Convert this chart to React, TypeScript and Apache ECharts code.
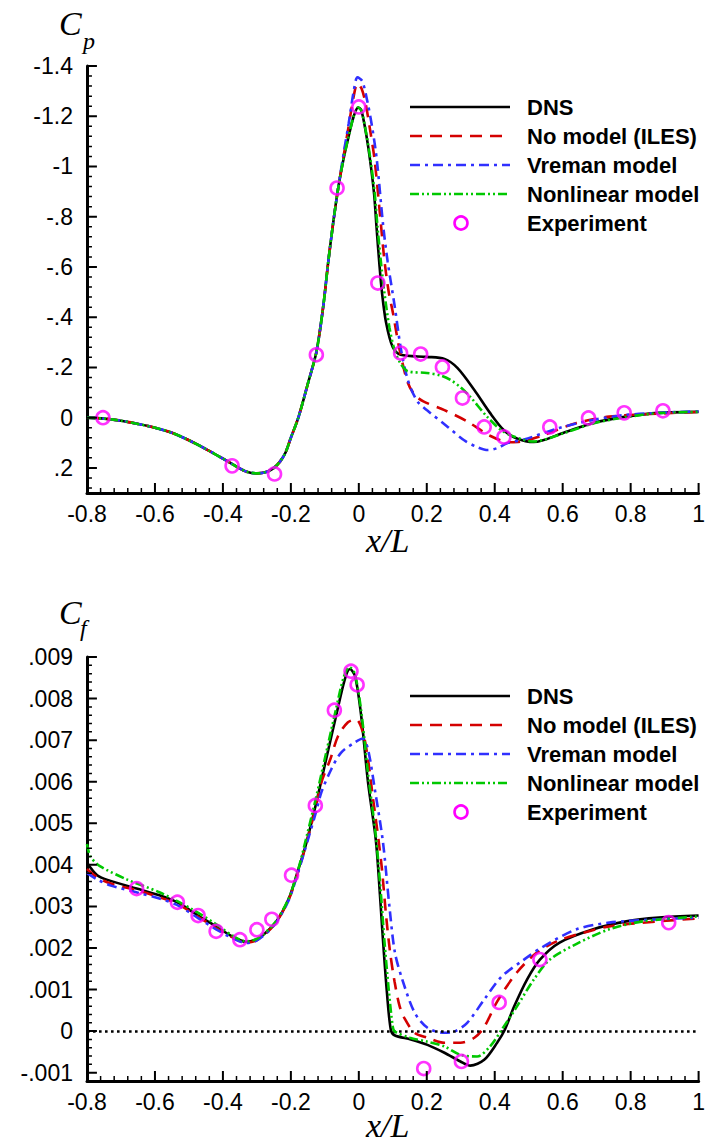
import React, { useEffect, useRef } from 'react';
import * as echarts from 'echarts';

// ---------- Cp (top panel) ----------
const cpDns = [
  [-0.8, 0.0], [-0.75, 0.004], [-0.7, 0.012], [-0.65, 0.025], [-0.6, 0.04], [-0.55, 0.06], [-0.5, 0.09],
  [-0.45, 0.125], [-0.4, 0.163], [-0.36, 0.195], [-0.33, 0.215], [-0.3, 0.222], [-0.27, 0.215], [-0.25, 0.2],
  [-0.232, 0.175], [-0.216, 0.14], [-0.2, 0.08], [-0.178, 0.0], [-0.148, -0.145], [-0.125, -0.26], [-0.105, -0.44],
  [-0.09, -0.62], [-0.075, -0.78], [-0.06, -0.92], [-0.045, -1.03], [-0.03, -1.12], [-0.015, -1.2],
  [-0.002, -1.235], [0.007, -1.225], [0.021, -1.133], [0.033, -1.026], [0.045, -0.89], [0.052, -0.76],
  [0.06, -0.62], [0.068, -0.5], [0.08, -0.38], [0.1, -0.28], [0.123, -0.25], [0.2, -0.242], [0.252, -0.234],
  [0.29, -0.198], [0.34, -0.11], [0.386, -0.019], [0.427, 0.05], [0.465, 0.083], [0.515, 0.097], [0.603, 0.06],
  [0.69, 0.021], [0.787, -0.004], [0.883, -0.019], [1.0, -0.023],
];
const cpNoModel = [
  [-0.8, 0.0], [-0.75, 0.004], [-0.7, 0.012], [-0.65, 0.025], [-0.6, 0.04], [-0.55, 0.06], [-0.5, 0.09],
  [-0.45, 0.125], [-0.4, 0.163], [-0.36, 0.195], [-0.33, 0.215], [-0.3, 0.222], [-0.27, 0.215], [-0.25, 0.2],
  [-0.232, 0.175], [-0.216, 0.14], [-0.2, 0.08], [-0.178, 0.0], [-0.148, -0.145], [-0.125, -0.26], [-0.105, -0.44],
  [-0.09, -0.62], [-0.075, -0.78], [-0.06, -0.92], [-0.045, -1.04], [-0.03, -1.16], [-0.015, -1.28],
  [-0.004, -1.33], [0.008, -1.31], [0.02, -1.25], [0.035, -1.13], [0.047, -1.02], [0.065, -0.77], [0.075, -0.63],
  [0.088, -0.5], [0.1, -0.42], [0.12, -0.27], [0.144, -0.14], [0.165, -0.09], [0.19, -0.065], [0.252, -0.03],
  [0.319, 0.015], [0.386, 0.072], [0.445, 0.098], [0.48, 0.095], [0.544, 0.069], [0.641, 0.021], [0.737, -0.004],
  [0.883, -0.016], [1.0, -0.023],
];
const cpVreman = [
  [-0.8, 0.0], [-0.75, 0.004], [-0.7, 0.012], [-0.65, 0.025], [-0.6, 0.04], [-0.55, 0.06], [-0.5, 0.09],
  [-0.45, 0.125], [-0.4, 0.163], [-0.36, 0.195], [-0.33, 0.215], [-0.3, 0.222], [-0.27, 0.215], [-0.25, 0.2],
  [-0.232, 0.175], [-0.216, 0.14], [-0.2, 0.08], [-0.178, 0.0], [-0.148, -0.145], [-0.125, -0.26], [-0.105, -0.44],
  [-0.09, -0.62], [-0.075, -0.78], [-0.06, -0.92], [-0.045, -1.05], [-0.03, -1.17], [-0.015, -1.3],
  [-0.004, -1.355], [0.01, -1.34], [0.025, -1.26], [0.04, -1.15], [0.053, -1.026], [0.072, -0.76], [0.085, -0.62],
  [0.106, -0.44], [0.123, -0.28], [0.14, -0.17], [0.155, -0.11], [0.175, -0.06], [0.2, -0.03], [0.26, 0.035],
  [0.31, 0.09], [0.348, 0.117], [0.38, 0.129], [0.41, 0.12], [0.436, 0.102], [0.486, 0.087], [0.59, 0.041],
  [0.69, 0.009], [0.787, -0.011], [0.9, -0.02], [1.0, -0.025],
];
const cpNonlinear = [
  [-0.8, 0.0], [-0.75, 0.004], [-0.7, 0.012], [-0.65, 0.025], [-0.6, 0.04], [-0.55, 0.06], [-0.5, 0.09],
  [-0.45, 0.125], [-0.4, 0.163], [-0.36, 0.195], [-0.33, 0.215], [-0.3, 0.222], [-0.27, 0.215], [-0.25, 0.2],
  [-0.232, 0.175], [-0.216, 0.14], [-0.2, 0.08], [-0.178, 0.0], [-0.148, -0.145], [-0.125, -0.26], [-0.105, -0.44],
  [-0.09, -0.62], [-0.075, -0.78], [-0.06, -0.92], [-0.045, -1.03], [-0.03, -1.12], [-0.015, -1.2],
  [-0.002, -1.235], [0.008, -1.22], [0.022, -1.13], [0.035, -1.02], [0.047, -0.89], [0.055, -0.76],
  [0.065, -0.62], [0.075, -0.5], [0.09, -0.36], [0.105, -0.27], [0.123, -0.215], [0.144, -0.185], [0.2, -0.178],
  [0.24, -0.168], [0.27, -0.15], [0.3, -0.12], [0.328, -0.083], [0.378, -0.003], [0.427, 0.057], [0.486, 0.089],
  [0.515, 0.095], [0.603, 0.062], [0.69, 0.023], [0.787, -0.002], [0.883, -0.018], [1.0, -0.023],
];
const cpExperiment = [
  [-0.753, 0.0], [-0.373, 0.192], [-0.248, 0.224], [-0.125, -0.25], [-0.064, -0.914], [0.0, -1.237],
  [0.056, -0.536], [0.123, -0.257], [0.182, -0.253], [0.246, -0.202], [0.305, -0.078], [0.369, 0.037],
  [0.427, 0.077], [0.562, 0.037], [0.676, 0.001], [0.781, -0.019], [0.895, -0.027],
];

// ---------- Cf (bottom panel) ----------
const cfDns = [
  [-0.8, 0.00405], [-0.77, 0.00375], [-0.733, 0.00362], [-0.654, 0.00343], [-0.587, 0.00327], [-0.534, 0.0031],
  [-0.473, 0.00278], [-0.42, 0.00252], [-0.373, 0.00228], [-0.332, 0.00215], [-0.3, 0.00221], [-0.286, 0.00228],
  [-0.245, 0.00261], [-0.207, 0.00317], [-0.178, 0.00389], [-0.157, 0.00445], [-0.125, 0.0055], [-0.096, 0.00655],
  [-0.067, 0.00758], [-0.041, 0.00847], [-0.026, 0.00871], [-0.011, 0.00854], [0.007, 0.00758], [0.027, 0.00599],
  [0.05, 0.0046], [0.062, 0.0033], [0.071, 0.0022], [0.083, 0.0009], [0.094, 0.00004], [0.105, -0.0001],
  [0.153, -0.0002], [0.202, -0.00033], [0.252, -0.00052], [0.299, -0.00073], [0.328, -0.00083], [0.369, -0.00069],
  [0.407, -0.00028], [0.43, 0.00004], [0.457, 0.00059], [0.495, 0.00124], [0.533, 0.00172], [0.591, 0.00213],
  [0.69, 0.00245], [0.787, 0.00264], [0.883, 0.00273], [1.0, 0.00278],
];
const cfNoModel = [
  [-0.8, 0.0039], [-0.77, 0.0037], [-0.73, 0.00355], [-0.65, 0.00338], [-0.587, 0.00322], [-0.534, 0.00306],
  [-0.473, 0.00275], [-0.42, 0.00248], [-0.373, 0.00226], [-0.332, 0.00213], [-0.3, 0.00219], [-0.25, 0.00255],
  [-0.207, 0.00315], [-0.178, 0.00385], [-0.15, 0.00465], [-0.125, 0.00545], [-0.11, 0.00599], [-0.084, 0.00654],
  [-0.061, 0.0071], [-0.032, 0.00743], [-0.008, 0.0075], [0.012, 0.00719], [0.027, 0.00654], [0.042, 0.00558],
  [0.058, 0.0046], [0.068, 0.0039], [0.08, 0.0028], [0.092, 0.0019], [0.105, 0.0012], [0.12, 0.0006],
  [0.135, 0.0003], [0.164, -0.00004], [0.202, -0.00016], [0.252, -0.00028], [0.299, -0.00028], [0.34, -0.00016],
  [0.369, 0.0001], [0.407, 0.00071], [0.465, 0.00141], [0.524, 0.00189], [0.582, 0.00216], [0.641, 0.00232],
  [0.737, 0.00252], [0.883, 0.00264], [1.0, 0.00271],
];
const cfVreman = [
  [-0.8, 0.0038], [-0.77, 0.00365], [-0.73, 0.0035], [-0.65, 0.00333], [-0.587, 0.00319], [-0.534, 0.00303],
  [-0.473, 0.00272], [-0.42, 0.00245], [-0.373, 0.00224], [-0.332, 0.00212], [-0.3, 0.00218], [-0.25, 0.00254],
  [-0.207, 0.00314], [-0.178, 0.00384], [-0.15, 0.0046], [-0.125, 0.0053], [-0.11, 0.00575], [-0.081, 0.0063],
  [-0.052, 0.0067], [-0.011, 0.00695], [0.012, 0.00704], [0.027, 0.00678], [0.047, 0.00582], [0.071, 0.00455],
  [0.09, 0.003], [0.106, 0.0019], [0.128, 0.00124], [0.164, 0.00045], [0.202, 0.00008], [0.252, -0.00004],
  [0.281, -0.00001], [0.319, 0.0002], [0.369, 0.00076], [0.42, 0.00131], [0.486, 0.00172], [0.544, 0.00204],
  [0.641, 0.00245], [0.737, 0.00261], [0.883, 0.00269], [1.0, 0.00273],
];
const cfNonlinear = [
  [-0.8, 0.0045], [-0.79, 0.0042], [-0.762, 0.00397], [-0.683, 0.00365], [-0.587, 0.00334], [-0.49, 0.00293],
  [-0.411, 0.00252], [-0.373, 0.0023], [-0.332, 0.00216], [-0.3, 0.00222], [-0.25, 0.00258], [-0.207, 0.00318],
  [-0.178, 0.0039], [-0.15, 0.0048], [-0.125, 0.00565], [-0.096, 0.0067], [-0.067, 0.00775], [-0.045, 0.0085],
  [-0.028, 0.00876], [-0.012, 0.0086], [0.007, 0.0077], [0.027, 0.0062], [0.05, 0.0047], [0.065, 0.0033],
  [0.075, 0.0022], [0.088, 0.001], [0.1, 0.0001], [0.106, -0.00001], [0.15, -0.00016], [0.2, -0.00025],
  [0.252, -0.00037], [0.299, -0.00057], [0.348, -0.00061], [0.386, -0.00037], [0.421, 0.00004], [0.465, 0.00059],
  [0.515, 0.00124], [0.562, 0.00172], [0.641, 0.0021], [0.737, 0.00245], [0.836, 0.00264], [1.0, 0.00276],
];
const cfExperiment = [
  [-0.654, 0.00343], [-0.534, 0.0031], [-0.473, 0.00278], [-0.42, 0.0024], [-0.35, 0.0022], [-0.3, 0.00244],
  [-0.256, 0.00269], [-0.198, 0.00375], [-0.128, 0.00543], [-0.072, 0.00772], [-0.023, 0.00866], [-0.005, 0.00833],
  [0.191, -0.0009], [0.302, -0.00073], [0.413, 0.00069], [0.533, 0.00172], [0.912, 0.00261],
];

const seriesNames = ['DNS', 'No model (ILES)', 'Vreman model', 'Nonlinear model', 'Experiment'];

// axis ranges and tick spacing (major step, number of minor divisions)
const xRange = [-0.8, 1.0];
const xMajor = 0.2;
const cpRange = [-1.4, 0.3];
const cpMajor = 0.2;
const cfRange = [-0.0012, 0.009];
const cfMajor = 0.001;
const minorDivisions = 5;

// plot-area sizes in pixels (used for the grids and to size tick marks)
const PLOT_W = 616;
const CP_H = 427;
const CF_H = 424;

const SANS = '"Liberation Sans", Arial, Helvetica, sans-serif';
const SERIF = '"Liberation Serif", "Times New Roman", serif';

const C_BLACK = '#000000';
const C_RED = '#d40000';
const C_BLUE = '#3030ff';
const C_GREEN = '#00c800';
const C_MAG = '#ff00ff';
const seriesColors = [C_BLACK, C_RED, C_BLUE, C_GREEN, C_MAG];

const DASH_RED = [12, 8];
const DASH_BLUE = [10, 5, 3, 5];
const DASH_GREEN = [9, 3, 2, 3, 2, 3];
const seriesDash: any[] = ['solid', DASH_RED, DASH_BLUE, DASH_GREEN, null];

const axisLine = { show: true, onZero: false, lineStyle: { color: '#000', width: 3 } };
const labelStyle = { color: '#000', fontSize: 23, fontFamily: SANS };

function fmtX(v: number) {
  const r = Math.round(v * 10) / 10;
  return String(r);
}
function fmtCp(v: number) {
  if (Math.abs(Math.round(v / 0.2) * 0.2 - v) > 1e-6) return '';
  const r = Math.round(v * 10) / 10;
  if (r === 0) return '0';
  return String(r).replace(/^(-?)0\./, '$1.');
}
function fmtCf(v: number) {
  if (Math.abs(Math.round(v / 0.001) * 0.001 - v) > 1e-9) return '';
  const k = Math.round(v * 1000);
  if (k === 0) return '0';
  return (k < 0 ? '-' : '') + '.' + String(Math.abs(k)).padStart(3, '0');
}

// tick positions along an axis (major or minor ones)
function tickValues(lo: number, hi: number, major: number, wantMajor: boolean) {
  const step = major / minorDivisions;
  const start = Math.ceil(lo / step - 1e-9);
  const end = Math.floor(hi / step + 1e-9);
  const out: number[] = [];
  for (let k = start; k <= end; k++) {
    const isMajor = k % minorDivisions === 0;
    if (isMajor === wantMajor) out.push(Math.round(k * step * 1e7) / 1e7);
  }
  return out;
}

// inward tick marks drawn as broken line series in data space (so they go through the axis scales)
function tickSeries(xi: number, yi: number, yLo: number, yHi: number, yMajor: number, plotH: number, yInverse: boolean) {
  const out: any[] = [];
  const yBottom = yInverse ? yHi : yLo;
  const ySpan = yHi - yLo;
  const xSpan = xRange[1] - xRange[0];
  [true, false].forEach((isMajor) => {
    const lenPx = isMajor ? 10 : 5;
    const dy = (lenPx / plotH) * ySpan * (yInverse ? -1 : 1);
    const dx = (lenPx / PLOT_W) * xSpan;
    const data: any[] = [];
    tickValues(xRange[0], xRange[1], xMajor, isMajor).forEach((v) => {
      data.push([v, yBottom], [v, yBottom + dy], [v, '-']);
    });
    tickValues(yLo, yHi, yMajor, isMajor).forEach((v) => {
      data.push([xRange[0], v], [xRange[0] + dx, v], [xRange[0], '-']);
    });
    out.push({
      type: 'line', xAxisIndex: xi, yAxisIndex: yi, data, z: 20, silent: true,
      symbol: 'none', showSymbol: false, smooth: false, connectNulls: false, clip: false,
      lineStyle: { color: '#000', width: isMajor ? 2 : 1.5, type: 'solid', cap: 'butt' },
      itemStyle: { color: '#000' },
      emphasis: { disabled: true },
    });
  });
  return out;
}

function xAxisFor(gridIndex: number) {
  return {
    type: 'value', gridIndex, min: xRange[0], max: xRange[1], interval: xMajor,
    axisLine, axisTick: { show: false }, minorTick: { show: false },
    axisLabel: { ...labelStyle, margin: 9, formatter: fmtX },
    splitLine: { show: false }, minorSplitLine: { show: false },
  };
}

function lineSeries(name: string, data: number[][], color: string, dash: any, xi: number, yi: number, z: number, extra: any = {}) {
  return {
    type: 'line', name, data, xAxisIndex: xi, yAxisIndex: yi,
    symbol: 'none', showSymbol: false, smooth: 0.3, z,
    lineStyle: { color, width: 2.6, type: dash },
    itemStyle: { color },
    emphasis: { disabled: true },
    ...extra,
  };
}
function expSeries(data: number[][], xi: number, yi: number) {
  return {
    type: 'scatter', name: 'Experiment', data, xAxisIndex: xi, yAxisIndex: yi,
    symbol: 'circle', symbolSize: 13, z: 10,
    itemStyle: { color: 'rgba(0,0,0,0)', borderColor: C_MAG, borderWidth: 2.6 },
    emphasis: { disabled: true },
  };
}

// hand-drawn legend (graphic elements) so the line samples match the figure
function legendGraphics(firstRowY: number) {
  const out: any[] = [];
  seriesNames.forEach((name, i) => {
    const y = firstRowY + i * 29;
    if (i < 4) {
      out.push({
        type: 'line',
        shape: { x1: 410, y1: y, x2: 510, y2: y },
        style: { stroke: seriesColors[i], lineWidth: 2.6, lineDash: i === 0 ? null : seriesDash[i] },
      });
    } else {
      out.push({
        type: 'circle',
        shape: { cx: 461, cy: y, r: 6.5 },
        style: { fill: 'none', stroke: C_MAG, lineWidth: 2.6 },
      });
    }
    out.push({
      type: 'text', x: 527, y,
      style: { text: name, fontSize: 22, fontWeight: 'bold', fontFamily: SANS, fill: '#000', verticalAlign: 'middle', align: 'left' },
    });
  });
  return out;
}

const titleGraphics: any[] = [
  { type: 'text', left: 59, top: 6, style: { text: 'C', fontSize: 34, fontStyle: 'italic', fontFamily: SERIF, fill: '#000' } },
  { type: 'text', left: 83, top: 29, style: { text: 'p', fontSize: 24, fontStyle: 'italic', fontFamily: SERIF, fill: '#000' } },
  { type: 'text', left: 59, top: 595, style: { text: 'C', fontSize: 34, fontStyle: 'italic', fontFamily: SERIF, fill: '#000' } },
  { type: 'text', left: 80, top: 616, style: { text: 'f', fontSize: 24, fontStyle: 'italic', fontFamily: SERIF, fill: '#000' } },
  { type: 'text', left: 366, top: 523, style: { text: 'x/L', fontSize: 34, fontStyle: 'italic', fontFamily: SERIF, fill: '#000' } },
  { type: 'text', left: 366, top: 1108, style: { text: 'x/L', fontSize: 34, fontStyle: 'italic', fontFamily: SERIF, fill: '#000' } },
];

export default function App() {
  const ref = useRef<HTMLDivElement>(null);
  useEffect(() => {
    const chart = echarts.init(ref.current!, null, { renderer: 'svg' });
    const option: any = {
      animation: false,
      backgroundColor: '#fff',
      grid: [
        { left: 87, top: 66, width: PLOT_W, height: CP_H },
        { left: 87, top: 657, width: PLOT_W, height: CF_H },
      ],
      xAxis: [xAxisFor(0), xAxisFor(1)],
      yAxis: [
        {
          type: 'value', gridIndex: 0, position: 'left', min: cpRange[0], max: cpRange[1], interval: cpMajor, inverse: true,
          axisLine, axisTick: { show: false }, minorTick: { show: false },
          axisLabel: { ...labelStyle, margin: 14, formatter: fmtCp },
          splitLine: { show: false },
        },
        {
          type: 'value', gridIndex: 1, position: 'left', min: cfRange[0], max: cfRange[1], splitNumber: 10,
          axisLine, axisTick: { show: false }, minorTick: { show: false },
          axisLabel: { ...labelStyle, margin: 14, formatter: fmtCf },
          splitLine: { show: false },
        },
      ],
      series: [
        lineSeries(seriesNames[0], cpDns, C_BLACK, 'solid', 0, 0, 2),
        lineSeries(seriesNames[1], cpNoModel, C_RED, DASH_RED, 0, 0, 3),
        lineSeries(seriesNames[2], cpVreman, C_BLUE, DASH_BLUE, 0, 0, 4),
        lineSeries(seriesNames[3], cpNonlinear, C_GREEN, DASH_GREEN, 0, 0, 5),
        expSeries(cpExperiment, 0, 0),
        lineSeries(seriesNames[0], cfDns, C_BLACK, 'solid', 1, 1, 2, {
          markLine: {
            silent: true, symbol: 'none', label: { show: false },
            lineStyle: { color: '#000', width: 2.6, type: [2.6, 3.4] },
            data: [{ yAxis: 0 }],
          },
        }),
        lineSeries(seriesNames[1], cfNoModel, C_RED, DASH_RED, 1, 1, 3),
        lineSeries(seriesNames[2], cfVreman, C_BLUE, DASH_BLUE, 1, 1, 4),
        lineSeries(seriesNames[3], cfNonlinear, C_GREEN, DASH_GREEN, 1, 1, 5),
        expSeries(cfExperiment, 1, 1),
        ...tickSeries(0, 0, cpRange[0], cpRange[1], cpMajor, CP_H, true),
        ...tickSeries(1, 1, cfRange[0], cfRange[1], cfMajor, CF_H, false),
      ],
      graphic: [...legendGraphics(107), ...legendGraphics(696), ...titleGraphics],
    };
    chart.setOption(option);
    return () => chart.dispose();
  }, []);
  return <div ref={ref} style={{ position: 'absolute', left: 0, top: 0, width: 708, height: 1146, background: '#fff' }} />;
}
